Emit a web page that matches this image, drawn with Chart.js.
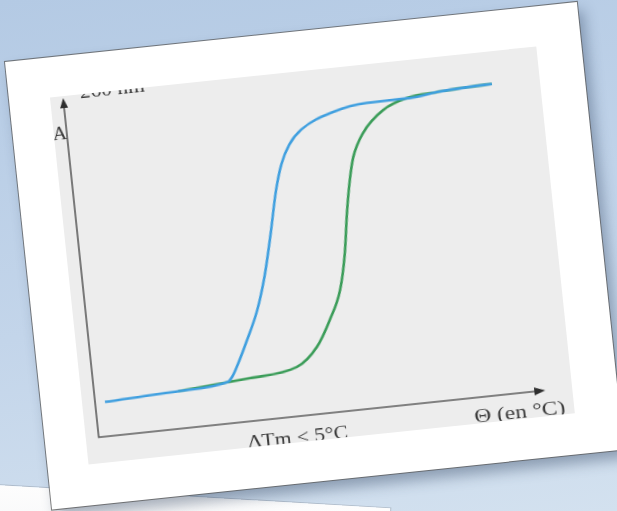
<!DOCTYPE html>
<html>
<head>
<meta charset="utf-8">
<script src="https://cdn.jsdelivr.net/npm/chart.js@4/dist/chart.umd.min.js"></script>
<style>
  html, body { margin: 0; padding: 0; }
  body {
    width: 617px; height: 511px; overflow: hidden; position: relative;
    background: linear-gradient(170deg, #b4cae4 0%, #c3d5ea 55%, #d3e1ef 100%);
  }
  .sheet-under {
    position: absolute; left: -20px; top: 484px; width: 411px; height: 120px;
    transform-origin: 0 0; transform: rotate(3.4deg);
    background: linear-gradient(#fdfdfd, #eef0f3);
    box-shadow: 0 0 0 1px rgba(120,130,140,0.35);
  }
  .sheet {
    position: absolute; left: 5px; top: 62px; width: 575px; height: 450px;
    transform-origin: 0 0; transform: rotate(-6deg);
    background: #fff;
    box-shadow: 0 0 0 1px rgba(90,90,90,0.75), 5px 9px 14px rgba(40,60,90,0.4);
  }
  .panel {
    position: absolute; left: 41px; top: 40px; width: 489px; height: 369px;
    background: #ededed;
  }
  canvas { display: block; }
</style>
</head>
<body>
<div class="sheet-under"></div>
<div class="sheet">
  <div class="panel"><canvas id="melt" width="489" height="369"></canvas></div>
</div>
<script>
// cooling (renaturation) curve - blue
var coolTemp = [2.2, 19.1, 29.9, 31.0, 32.5, 35.0, 38.0, 40.5, 42.8, 45.0, 46.8, 49.0, 52.0, 59.5, 67.2, 76.8, 83.0, 89.7, 95.3];
var coolAbs  = [10.1, 11.0, 12.2, 13.6, 17.0, 23.5, 32.0, 42.0, 54.0, 66.5, 74.0, 79.5, 83.5, 87.7, 89.3, 89.4, 90.3, 90.8, 91.0];

// heating (melting) curve - green
var heatTemp = [18.7, 34.9, 45.5, 50.4, 53.9, 56.9, 58.8, 60.2, 61.6, 62.9, 65.6, 70.6, 76.2, 83.0, 89.7, 95.3];
var heatAbs  = [11.0, 12.6, 14.4, 19.6, 27.1, 35.6, 46.2, 57.8, 67.3, 73.9, 80.6, 86.7, 89.5, 90.3, 90.8, 91.0];

var yLabel = 'A';
var yUnit = '260 nm';
var xLabel = 'Θ (en °C)';
var gapLabel = 'ΔTm < 5°C';

function toPoints(xs, ys) {
	var pts = [];
	for (var i = 0; i < xs.length; i++) {
		pts.push({x: xs[i], y: ys[i]});
	}
	return pts;
}

function wideText(ctx, str, x, y, sx, align) {
	ctx.save();
	ctx.translate(x, y);
	ctx.scale(sx, 1);
	ctx.textAlign = align;
	ctx.fillText(str, 0, 0);
	ctx.restore();
}

// axis lines with arrow heads, plus the hand-placed labels
var axesPlugin = {
	id: 'arrowAxes',
	beforeDatasetsDraw: function(chart) {
		var ctx = chart.ctx;
		var xs = chart.scales.x, ys = chart.scales.y;
		var x0 = xs.getPixelForValue(0), x1 = xs.getPixelForValue(100);
		var y0 = ys.getPixelForValue(0), y1 = ys.getPixelForValue(100);

		ctx.save();
		ctx.strokeStyle = '#5c5c5c';
		ctx.lineWidth = 1.6;
		ctx.beginPath();
		ctx.moveTo(x0, y1 + 6);
		ctx.lineTo(x0, y0);
		ctx.lineTo(x1 - 6, y0);
		ctx.stroke();

		ctx.fillStyle = '#2e2e2e';
		ctx.beginPath();
		ctx.moveTo(x0, y1);
		ctx.lineTo(x0 - 4, y1 + 10);
		ctx.lineTo(x0 + 4, y1 + 10);
		ctx.closePath();
		ctx.fill();
		ctx.beginPath();
		ctx.moveTo(x1, y0);
		ctx.lineTo(x1 - 11, y0 - 4);
		ctx.lineTo(x1 - 11, y0 + 4);
		ctx.closePath();
		ctx.fill();

		ctx.fillStyle = '#3a3a3a';
		ctx.font = '18px "Liberation Serif", serif';
		ctx.textBaseline = 'alphabetic';
		wideText(ctx, yLabel, x0 - 7, y1 + 41, 1.1, 'center');
		wideText(ctx, yUnit, x0 + 17, y1 + 1.5, 1.2, 'left');
		wideText(ctx, gapLabel, 211, y0 + 27, 1.2, 'center');
		wideText(ctx, xLabel, 480, y0 + 25, 1.3, 'right');
		ctx.restore();
	}
};

var meltCanvas = document.getElementById('melt').getContext('2d');

new Chart(meltCanvas, {
	type: 'line',
	data: {
		datasets: [{
			label: 'cooling',
			data: toPoints(coolTemp, coolAbs),
			borderColor: '#3f9fdf',
			borderWidth: 2.6,
			pointRadius: 0,
			cubicInterpolationMode: 'monotone'
		}, {
			label: 'heating',
			data: toPoints(heatTemp, heatAbs),
			borderColor: '#3a9c58',
			borderWidth: 2.6,
			pointRadius: 0,
			cubicInterpolationMode: 'monotone'
		}]
	},
	options: {
		responsive: false,
		animation: false,
		layout: { padding: { left: 13, top: 2, right: 27, bottom: 26 } },
		plugins: { legend: { display: false }, tooltip: { enabled: false } },
		scales: {
			x: { type: 'linear', min: 0, max: 100, display: false },
			y: { min: 0, max: 100, display: false }
		}
	},
	plugins: [axesPlugin]
});
</script>
</body>
</html>
